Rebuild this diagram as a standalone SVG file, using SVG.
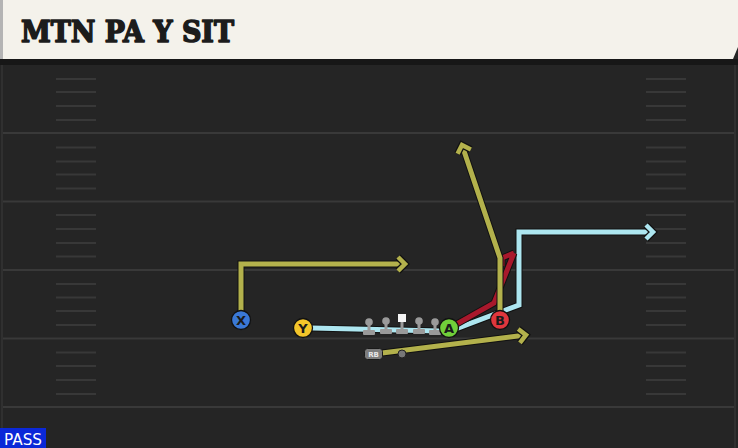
<svg xmlns="http://www.w3.org/2000/svg" width="738" height="448" viewBox="0 0 738 448">
<style>
.yl{stroke:#393939;stroke-width:2}
.hm{stroke:#383838;stroke-width:2}
.out{fill:none;stroke:#111;stroke-width:7;stroke-linejoin:miter;stroke-linecap:butt}
.ry{fill:none;stroke:#b3b14c;stroke-width:5}
.rb{fill:none;stroke:#ade6f0;stroke-width:5}
.rr{fill:none;stroke:#a8182c;stroke-width:5}
.pl{stroke:#111;stroke-width:1.3}
.lbl{font-family:"DejaVu Sans",sans-serif;font-weight:bold;font-size:13px;fill:#1a1a1a;text-anchor:middle}
.ol{fill:#9a9a9a}
</style>
<defs>
<marker id="ay" markerUnits="userSpaceOnUse" markerWidth="24" markerHeight="24" refX="11" refY="11" orient="auto" overflow="visible">
<path d="M4,4 L11,11 L4,18" fill="none" stroke="#111" stroke-width="7"/>
<path d="M4,4 L11,11 L4,18" fill="none" stroke="#b3b14c" stroke-width="4.5"/>
</marker>
<marker id="ab" markerUnits="userSpaceOnUse" markerWidth="24" markerHeight="24" refX="11" refY="11" orient="auto" overflow="visible">
<path d="M4,4 L11,11 L4,18" fill="none" stroke="#111" stroke-width="7"/>
<path d="M4,4 L11,11 L4,18" fill="none" stroke="#ade6f0" stroke-width="4.5"/>
</marker>
</defs>
<rect width="738" height="448" fill="#252525"/>
<rect x="0" y="59" width="738" height="6" fill="#171717"/>
<rect x="1" y="65" width="2" height="383" fill="#303030"/>
<rect x="734" y="65" width="2" height="383" fill="#303030"/>
<g id="field">
<line class="yl" x1="3" y1="133" x2="734" y2="133"/>
<line class="yl" x1="3" y1="201.5" x2="734" y2="201.5"/>
<line class="yl" x1="3" y1="270" x2="734" y2="270"/>
<line class="yl" x1="3" y1="338.5" x2="734" y2="338.5"/>
<line class="yl" x1="3" y1="407" x2="734" y2="407"/>
<g class="hm">
<line x1="56" y1="79" x2="96" y2="79"/><line x1="56" y1="92" x2="96" y2="92"/><line x1="56" y1="106" x2="96" y2="106"/><line x1="56" y1="120" x2="96" y2="120"/>
<line x1="56" y1="147.5" x2="96" y2="147.5"/><line x1="56" y1="161.5" x2="96" y2="161.5"/><line x1="56" y1="174.5" x2="96" y2="174.5"/><line x1="56" y1="188.5" x2="96" y2="188.5"/>
<line x1="56" y1="215" x2="96" y2="215"/><line x1="56" y1="229" x2="96" y2="229"/><line x1="56" y1="243" x2="96" y2="243"/><line x1="56" y1="256.5" x2="96" y2="256.5"/>
<line x1="56" y1="284" x2="96" y2="284"/><line x1="56" y1="297.5" x2="96" y2="297.5"/><line x1="56" y1="311" x2="96" y2="311"/><line x1="56" y1="325" x2="96" y2="325"/>
<line x1="56" y1="352.5" x2="96" y2="352.5"/><line x1="56" y1="366" x2="96" y2="366"/><line x1="56" y1="380" x2="96" y2="380"/><line x1="56" y1="394" x2="96" y2="394"/>
<line x1="646" y1="79" x2="686" y2="79"/><line x1="646" y1="92" x2="686" y2="92"/><line x1="646" y1="106" x2="686" y2="106"/><line x1="646" y1="120" x2="686" y2="120"/>
<line x1="646" y1="147.5" x2="686" y2="147.5"/><line x1="646" y1="161.5" x2="686" y2="161.5"/><line x1="646" y1="174.5" x2="686" y2="174.5"/><line x1="646" y1="188.5" x2="686" y2="188.5"/>
<line x1="646" y1="215" x2="686" y2="215"/><line x1="646" y1="229" x2="686" y2="229"/><line x1="646" y1="243" x2="686" y2="243"/><line x1="646" y1="256.5" x2="686" y2="256.5"/>
<line x1="646" y1="284" x2="686" y2="284"/><line x1="646" y1="297.5" x2="686" y2="297.5"/><line x1="646" y1="311" x2="686" y2="311"/><line x1="646" y1="325" x2="686" y2="325"/>
<line x1="646" y1="352.5" x2="686" y2="352.5"/><line x1="646" y1="366" x2="686" y2="366"/><line x1="646" y1="380" x2="686" y2="380"/><line x1="646" y1="394" x2="686" y2="394"/>
</g>
</g>
<g id="header">
<polygon points="0,0 738,0 738,47 733,59 0,59" fill="#f4f2eb"/>
<rect x="0" y="0" width="3" height="59" fill="#b4b4b4"/>
<text x="21" y="42" font-family="DejaVu Serif, serif" font-weight="bold" font-size="29" fill="#1c1c1c" stroke="#1c1c1c" stroke-width="1.6" stroke-linejoin="round" textLength="213" lengthAdjust="spacingAndGlyphs">MTN PA Y SIT</text>
</g>
<g id="connectors">
<path class="out" d="M241,320 V264 H405"/>
<path class="ry" d="M241,320 V264 H405" marker-end="url(#ay)"/>
<path class="out" d="M382,353 L526,335"/>
<path class="ry" d="M382,353 L526,335" marker-end="url(#ay)"/>
<path class="out" d="M312,328 L440,331 L458,328 L519,305 V232 H653"/>
<path class="rb" d="M312,328 L440,331 L458,328 L519,305 V232 H653" marker-end="url(#ab)"/>
<path class="out" d="M455,325 L494,303 L514,253 M514,253 L502,258 V266"/>
<path class="rr" d="M455,325 L494,303 L514,253 M514,253 L502,258 V266"/>
<path class="out" d="M500,314 V258 L462,145"/>
<path class="ry" d="M500,314 V258 L462,145" marker-end="url(#ay)"/>
</g>
<g id="line">
<g class="ol"><circle cx="369" cy="322" r="3.8"/><rect x="367.5" y="322" width="3" height="10"/><rect x="363" y="330" width="12" height="5" rx="1"/></g>
<g class="ol"><circle cx="386" cy="321" r="3.8"/><rect x="384.5" y="321" width="3" height="10"/><rect x="380" y="329" width="12" height="5" rx="1"/></g>
<g><rect x="398" y="314" width="8" height="8" fill="#f4f4f4"/><rect x="400.5" y="322" width="3" height="9" fill="#9a9a9a"/><rect x="396" y="329" width="12" height="5" rx="1" fill="#9a9a9a"/></g>
<g class="ol"><circle cx="419" cy="321" r="3.8"/><rect x="417.5" y="321" width="3" height="10"/><rect x="413" y="329" width="12" height="5" rx="1"/></g>
<g class="ol"><circle cx="435" cy="322" r="3.8"/><rect x="433.5" y="322" width="3" height="10"/><rect x="429" y="330" width="12" height="5" rx="1"/></g>
</g>
<g id="qb"><circle cx="402" cy="354" r="4" fill="#777" stroke="#222" stroke-width="1"/></g>
<g id="rb"><rect x="364.5" y="348.5" width="18" height="11" rx="3" fill="#7d7d7d" stroke="#1a1a1a" stroke-width="1"/><text x="373.5" y="357" font-family="DejaVu Sans, sans-serif" font-size="7" font-weight="bold" fill="#e8e8e8" text-anchor="middle">RB</text></g>
<g id="X"><circle class="pl" cx="241" cy="320" r="9.5" fill="#3a78d6"/><text class="lbl" x="241" y="324.5">X</text></g>
<g id="Y"><circle class="pl" cx="303" cy="328" r="9.5" fill="#f3c52a"/><text class="lbl" x="303" y="332.5">Y</text></g>
<g id="A"><circle class="pl" cx="449" cy="328" r="9.5" fill="#71cf3a"/><text class="lbl" x="449" y="332.5">A</text></g>
<g id="B"><circle class="pl" cx="500" cy="320" r="9.5" fill="#e0363d"/><text class="lbl" x="500" y="324.5">B</text></g>
<g id="pass"><rect x="0" y="428" width="46" height="20" fill="#0b28d8"/><text x="4" y="445" font-family="DejaVu Sans, sans-serif" font-size="16" fill="#fff" textLength="38" lengthAdjust="spacingAndGlyphs">PASS</text></g>
</svg>
